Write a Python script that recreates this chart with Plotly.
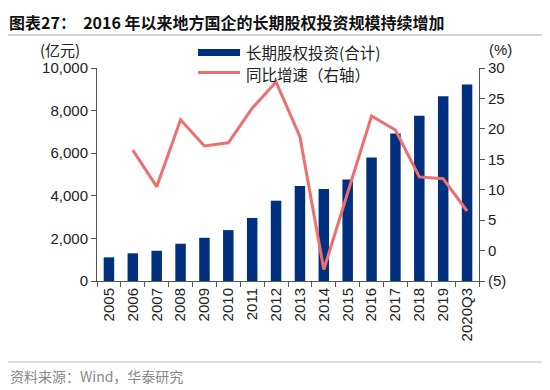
import plotly.graph_objects as go

categories = ["2005", "2006", "2007", "2008", "2009", "2010", "2011", "2012", "2013",
              "2014", "2015", "2016", "2017", "2018", "2019", "2020Q3"]
investment = [1110, 1300, 1420, 1750, 2030, 2390, 2960, 3770, 4460,
              4320, 4760, 5800, 6930, 7760, 8670, 9220]
yoy_growth = [None, 16.5, 10.5, 21.5, 17.2, 17.7, 23.4, 27.7, 18.7,
              -3.1, 9.5, 22.1, 19.8, 12.1, 11.8, 6.5]
left_ticks = [0, 2000, 4000, 6000, 8000, 10000]
left_ticktext = ["0", "2,000", "4,000", "6,000", "8,000", "10,000"]
right_ticks = [-5, 0, 5, 10, 15, 20, 25, 30]
right_ticktext = ["(5)", "0", "5", "10", "15", "20", "25", "30"]
series_names = ["长期股权投资(合计)", "同比增速（右轴）"]

BAR = "#00307E"
LINE = "#EF6E6E"
FONT = "Liberation Sans, Arial, sans-serif"
CJK = "Noto Sans CJK SC"

# page -> paper coordinate helpers (page has 8px body margin)
PX0, PX1, PY0, PY1 = 97.0, 479.0, 68.0, 281.0
def px(x):
    return (x - PX0) / (PX1 - PX0)
def py(y):
    return (PY1 - y) / (PY1 - PY0)

fig = go.Figure()
fig.add_trace(go.Bar(x=categories, y=investment, name=series_names[0],
                     marker=dict(color=BAR, line=dict(width=0)), yaxis="y"))
fig.add_trace(go.Scatter(x=categories, y=yoy_growth, name=series_names[1],
                         mode="lines", line=dict(color=LINE, width=3), yaxis="y2"))

W, H = 542, 382
fig.update_layout(
    width=W, height=H,
    margin=dict(l=int(PX0 - 8), r=int(W - (PX1 - 8)), t=int(PY0 - 8), b=int(H - (PY1 - 8))),
    paper_bgcolor="white", plot_bgcolor="white",
    bargap=0.56,
    showlegend=False,
    xaxis=dict(type="category", tickangle=-90, showline=True, linecolor="#555",
               ticks="outside", tickson="boundaries", ticklen=5, tickcolor="#555",
               tickfont=dict(family=FONT, size=15, color="#222"), showgrid=False),
    yaxis=dict(range=[0, 10000], tickvals=left_ticks, ticktext=left_ticktext,
               showline=True, linecolor="#555", ticks="outside", ticklen=5,
               tickcolor="#555", showgrid=False, zeroline=False,
               tickfont=dict(family=FONT, size=15, color="#222")),
    yaxis2=dict(range=[-5, 30], tickvals=right_ticks, ticktext=right_ticktext,
                overlaying="y", side="right", showline=True, linecolor="#555",
                ticks="outside", ticklen=5, tickcolor="#555", showgrid=False,
                zeroline=False, tickfont=dict(family=FONT, size=15, color="#222")),
    font=dict(family=FONT),
)

# title
fig.add_annotation(text="<b>图表27：  2016 年以来地方国企的长期股权投资规模持续增加</b>",
                   xref="paper", yref="paper", x=px(8), y=py(8.5), xanchor="left", yanchor="top",
                   borderpad=0, showarrow=False, font=dict(family=CJK, size=16, color="#111"))
fig.add_shape(type="line", xref="paper", yref="paper", x0=px(5), x1=px(545), y0=py(35), y1=py(35),
              line=dict(color="#aaa", width=1))
# axis unit labels
fig.add_annotation(text="(亿元)", xref="paper", yref="paper", x=px(82), y=py(49),
                   xanchor="right", yanchor="middle", showarrow=False,
                   font=dict(family=CJK, size=15, color="#222"))
fig.add_annotation(text="(%)", xref="paper", yref="paper", x=px(487), y=py(49),
                   xanchor="left", yanchor="middle", showarrow=False,
                   font=dict(family=FONT, size=15, color="#222"))
# custom legend
fig.add_shape(type="rect", xref="paper", yref="paper", x0=px(198), x1=px(240), y0=py(56), y1=py(49),
              fillcolor=BAR, line=dict(width=0))
fig.add_shape(type="line", xref="paper", yref="paper", x0=px(198), x1=px(240), y0=py(72.5), y1=py(72.5),
              line=dict(color=LINE, width=3))
fig.add_annotation(text=series_names[0], xref="paper", yref="paper", x=px(245), y=py(51.5),
                   xanchor="left", yanchor="middle", showarrow=False, borderpad=0,
                   font=dict(family=CJK, size=15.5, color="#222"))
fig.add_annotation(text=series_names[1], xref="paper", yref="paper", x=px(245), y=py(74),
                   xanchor="left", yanchor="middle", showarrow=False, borderpad=0,
                   font=dict(family=CJK, size=15.5, color="#222"))
# footer
fig.add_shape(type="line", xref="paper", yref="paper", x0=px(5), x1=px(545), y0=py(362), y1=py(362),
              line=dict(color="#bbb", width=1))
fig.add_annotation(text="资料来源：Wind，华泰研究", xref="paper", yref="paper", x=px(8), y=py(376),
                   xanchor="left", yanchor="middle", showarrow=False,
                   font=dict(family=CJK, size=14, color="#888"))

fig.write_html("out.html")
